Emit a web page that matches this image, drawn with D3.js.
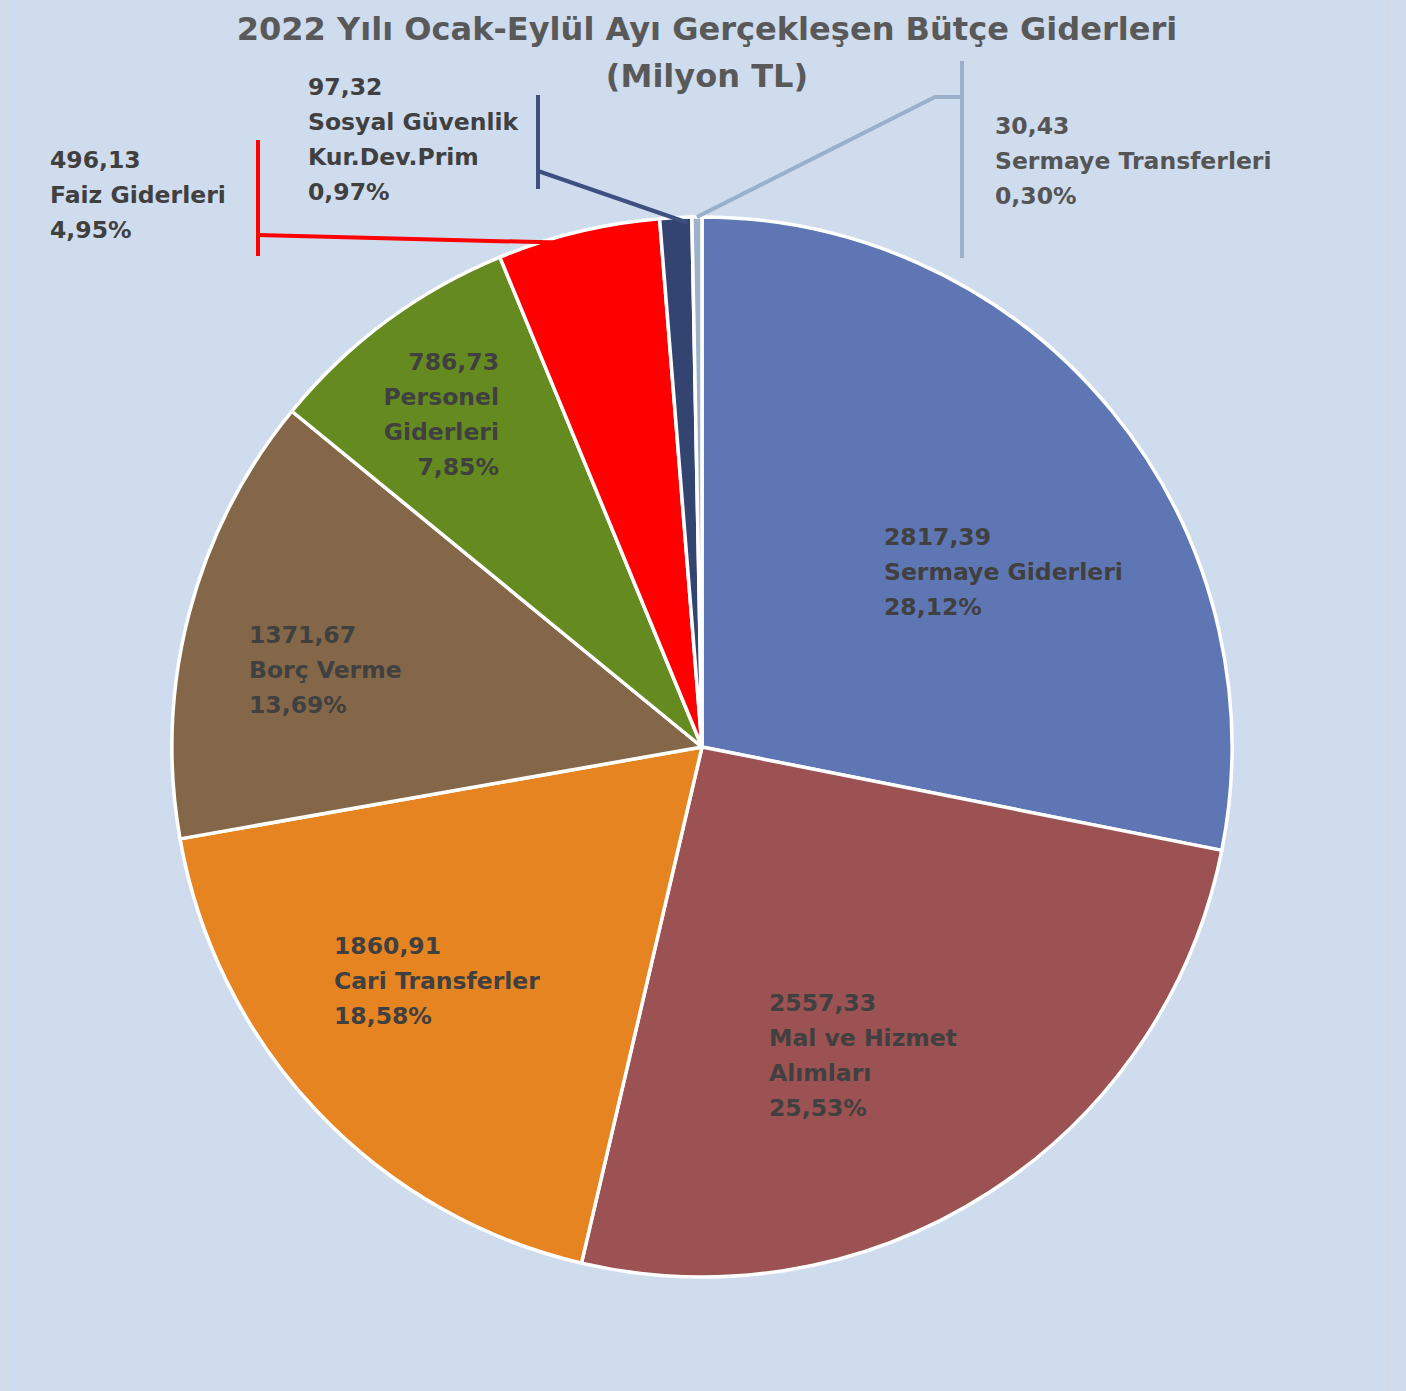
<!DOCTYPE html>
<html>
<head>
<meta charset="utf-8">
<script src="https://cdn.jsdelivr.net/npm/d3@7"></script>
<style>
  html, body { margin: 0; padding: 0; background: #cfdcee; }
  svg { display: block; }
</style>
</head>
<body>
<svg id="chart" width="1406" height="1391"></svg>
<script>
// ---- data ----
const categories = [
  "Sermaye Giderleri",
  "Mal ve Hizmet Alımları",
  "Cari Transferler",
  "Borç Verme",
  "Personel Giderleri",
  "Faiz Giderleri",
  "Sosyal Güvenlik Kur.Dev.Prim",
  "Sermaye Transferleri"
];
const values = [2817.39, 2557.33, 1860.91, 1371.67, 786.73, 496.13, 97.32, 30.43];
const labelNameLines = [
  ["Sermaye Giderleri"],
  ["Mal ve Hizmet", "Alımları"],
  ["Cari Transferler"],
  ["Borç Verme"],
  ["Personel", "Giderleri"],
  ["Faiz Giderleri"],
  ["Sosyal Güvenlik", "Kur.Dev.Prim"],
  ["Sermaye Transferleri"]
];
const titleLines = ["2022 Yılı Ocak-Eylül Ayı Gerçekleşen Bütçe Giderleri", "(Milyon TL)"];

// ---- styles / layout ----
const colors = ["#5f76b4", "#9c5252", "#e68422", "#846748", "#658a1f", "#ff0000", "#334470", "#9fb1ca"];
const leaderColors = { 5: "#ff0000", 6: "#3f4f80", 7: "#9cafc8" };
const cx = 702, cy = 747, R = 530;
const fontFamily = "'DejaVu Sans', sans-serif";
const labelFontSize = 23.5;
const lineStep = 35;
const labelLayout = [
  { x: 884, y: 537, anchor: "start" },
  { x: 769, y: 1003, anchor: "start" },
  { x: 334, y: 946, anchor: "start" },
  { x: 249, y: 635, anchor: "start" },
  { x: 499, y: 362, anchor: "end" },
  { x: 50,  y: 160, anchor: "start" },
  { x: 308, y: 87,  anchor: "start", color: "#404040" },
  { x: 995, y: 126, anchor: "start", color: "#555555" }
];
// leader: vertical bar (x, y1..y2), elbow points, and end inside slice (t fraction, radius factor)
const leaderLayout = {
  5: { bar: [258, 140, 256], pts: [[258, 235]], t: 0.6, rf: 0.97 },
  6: { bar: [538, 95, 189], pts: [[538, 171]], t: 0.85, rf: 0.99 },
  7: { bar: [962, 61, 258], pts: [[962, 97], [935, 97]], t: 0.5, rf: 1.0 }
};

const svg = d3.select("#chart");
svg.append("rect").attr("width", 1406).attr("height", 1391).attr("fill", "#cfdcee");
// frame edges
svg.append("line").attr("x1", 5).attr("x2", 5).attr("y1", 0).attr("y2", 1391)
  .attr("stroke", "#d6d9e0").attr("stroke-width", 2.5);
svg.append("line").attr("x1", 1388).attr("x2", 1388).attr("y1", 0).attr("y2", 1391)
  .attr("stroke", "#d6d9e0").attr("stroke-width", 2.5);

const total = d3.sum(values);
const pie = d3.pie().sort(null).value(d => d)(values);
const arc = d3.arc().innerRadius(0).outerRadius(R);

const g = svg.append("g").attr("transform", `translate(${cx},${cy})`);
g.selectAll("path.slice").data(pie).join("path")
  .attr("class", "slice")
  .attr("d", arc)
  .attr("fill", (d, i) => colors[i])
  .attr("stroke", "#ffffff")
  .attr("stroke-width", 3.5)
  .attr("stroke-linejoin", "round");

// leader lines
Object.keys(leaderLayout).forEach(k => {
  const i = +k, L = leaderLayout[k], d = pie[i];
  const a = d.startAngle + (d.endAngle - d.startAngle) * L.t;
  const ex = cx + R * L.rf * Math.sin(a), ey = cy - R * L.rf * Math.cos(a);
  svg.append("line")
    .attr("x1", L.bar[0]).attr("x2", L.bar[0]).attr("y1", L.bar[1]).attr("y2", L.bar[2])
    .attr("stroke", leaderColors[i]).attr("stroke-width", 4);
  const pts = L.pts.concat([[ex, ey]]);
  svg.append("path")
    .attr("d", d3.line()(pts))
    .attr("fill", "none")
    .attr("stroke", leaderColors[i]).attr("stroke-width", 4)
    .attr("stroke-linejoin", "miter");
});

// labels
const fmtVal = v => d3.format(".2f")(v).replace(".", ",");
const fmtPct = v => d3.format(".2f")(v * 100).replace(".", ",") + "%";
pie.forEach((d, i) => {
  const L = labelLayout[i];
  const lines = [fmtVal(values[i])].concat(labelNameLines[i]).concat([fmtPct(values[i] / total)]);
  const t = svg.append("text")
    .attr("font-family", fontFamily)
    .attr("font-weight", 700)
    .attr("font-size", labelFontSize)
    .attr("fill", L.color || "#404040")
    .attr("text-anchor", L.anchor);
  lines.forEach((s, j) => {
    t.append("tspan").attr("x", L.x).attr("y", L.y + j * lineStep).attr("dy", "0.36em").text(s);
  });
});

// title (size fitted so the first line spans the reference width)
const title = svg.append("text")
  .attr("font-family", fontFamily)
  .attr("font-weight", 700)
  .attr("font-size", 30)
  .attr("fill", "#595959")
  .attr("text-anchor", "middle");
const t1 = title.append("tspan").attr("x", 707).attr("y", 28).attr("dy", "0.36em").text(titleLines[0]);
title.append("tspan").attr("x", 707).attr("y", 75).attr("dy", "0.36em").text(titleLines[1]);
const w = t1.node().getComputedTextLength();
if (w > 0) title.attr("font-size", Math.min(34, 30 * 941 / w));
</script>
</body>
</html>
